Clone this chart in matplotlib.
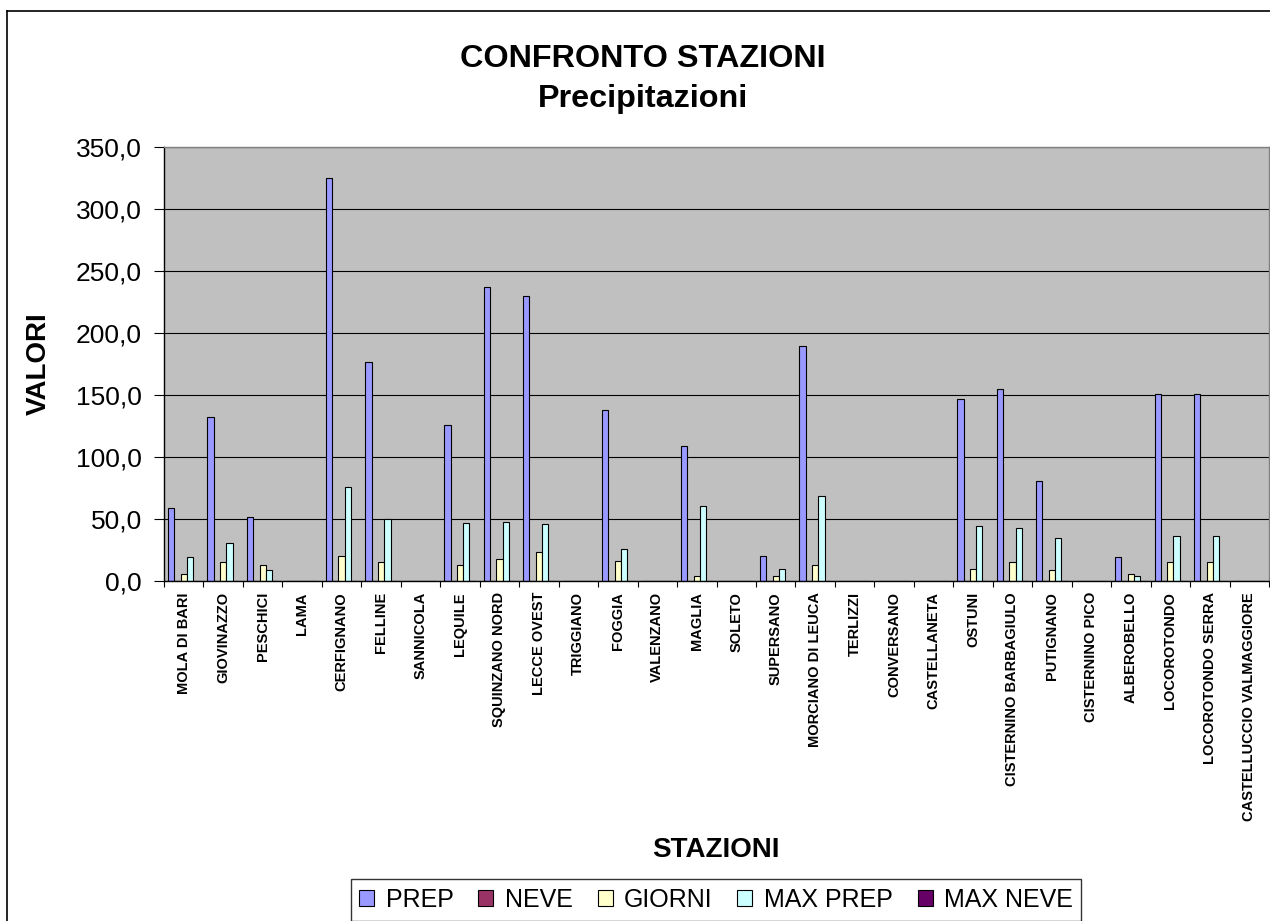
import matplotlib
matplotlib.use("Agg")
import matplotlib.pyplot as plt
import numpy as np
from matplotlib.lines import Line2D

plt.rcParams['font.family'] = ['Liberation Sans', 'DejaVu Sans']

stations = ["MOLA DI BARI", "GIOVINAZZO", "PESCHICI", "LAMA", "CERFIGNANO", "FELLINE",
            "SANNICOLA", "LEQUILE", "SQUINZANO NORD", "LECCE OVEST", "TRIGGIANO", "FOGGIA",
            "VALENZANO", "MAGLIA", "SOLETO", "SUPERSANO", "MORCIANO DI LEUCA", "TERLIZZI",
            "CONVERSANO", "CASTELLANETA", "OSTUNI", "CISTERNINO BARBAGIULO", "PUTIGNANO",
            "CISTERNINO PICO", "ALBEROBELLO", "LOCOROTONDO", "LOCOROTONDO SERRA",
            "CASTELLUCCIO VALMAGGIORE"]
prep = [58.6, 132.4, 51.3, 0, 325.0, 176.7, 0, 126.0, 236.7, 230.2, 0, 138.0, 0, 108.5, 0,
        19.9, 189.6, 0, 0, 0, 146.4, 154.5, 80.8, 0, 19.3, 151.0, 151.0, 0]
neve = [0] * 28
giorni = [6, 15, 13, 0, 20, 15, 0, 13, 18, 23, 0, 16, 0, 4, 0, 4, 13, 0, 0, 0, 10, 15, 9, 0,
          6, 15, 15, 0]
max_prep = [19.3, 30.9, 8.9, 0, 76.0, 50.2, 0, 46.7, 47.5, 45.7, 0, 25.8, 0, 60.4, 0, 9.9,
            68.8, 0, 0, 0, 44.0, 43.0, 34.9, 0, 4.3, 36.5, 36.5, 0]
max_neve = [0] * 28
series_names = ["PREP", "NEVE", "GIORNI", "MAX PREP", "MAX NEVE"]
yticks = [0, 50, 100, 150, 200, 250, 300, 350]

series = [prep, neve, giorni, max_prep, max_neve]
colors = ["#9999FF", "#993366", "#FFFFCC", "#CCFFFF", "#660066"]

W, H = 1270, 921
fig = plt.figure(figsize=(W / 100, H / 100), dpi=100)
fig.patch.set_facecolor("white")

left, right, top, bottom = 164, 1269, 147, 581
ax = fig.add_axes([left / W, 1 - bottom / H, (right - left) / W, (bottom - top) / H])
ax.set_facecolor("#C0C0C0")

n = len(stations)
x = np.arange(n)
bw = 0.16
for i, (vals, c, name) in enumerate(zip(series, colors, series_names)):
    ax.bar(x + (i - 2) * bw, vals, width=bw, color=c, edgecolor="black",
           linewidth=0.8, label=name, zorder=2)

ax.set_xlim(-0.5, n - 0.5)
ax.set_ylim(0, 350)
ax.set_yticks(yticks)
ax.set_yticklabels([f"{v:.1f}".replace(".", ",") for v in yticks], fontsize=19)
ax.yaxis.grid(True, color="black", linewidth=0.8, zorder=1)
ax.set_axisbelow(True)

ax.set_xticks(x)
ax.set_xticklabels(stations, rotation=90, fontsize=10.5, fontweight="bold",
                   va="top", ha="center")
ax.set_xticks(np.arange(-0.5, n, 1.0), minor=True)
ax.tick_params(axis="x", which="major", length=0, pad=8)
ax.tick_params(axis="x", which="minor", length=4, direction="out", width=0.8)
ax.tick_params(axis="y", length=7, direction="out", width=0.8, pad=9)

for s in ["top", "right"]:
    ax.spines[s].set_color("#808080")
    ax.spines[s].set_linewidth(1.0)
for s in ["left", "bottom"]:
    ax.spines[s].set_color("black")
    ax.spines[s].set_linewidth(1.0)

# titles
fig.text(643 / W, 1 - 67 / H, "CONFRONTO STAZIONI", ha="center", va="baseline",
         fontsize=23.3, fontweight="bold")
fig.text(643 / W, 1 - 107 / H, "Precipitazioni", ha="center", va="baseline",
         fontsize=23.3, fontweight="bold")
fig.text(716 / W, 1 - 857 / H, "STAZIONI", ha="center", va="baseline",
         fontsize=20, fontweight="bold")
fig.text(39 / W, 1 - 364 / H, "VALORI", ha="center", va="center", rotation=90,
         fontsize=20, fontweight="bold")

leg = fig.legend(loc="upper center", bbox_to_anchor=(716 / W, 1 - 879 / H),
                 bbox_transform=fig.transFigure, ncol=5, fontsize=18, frameon=True,
                 fancybox=False, shadow=False, borderaxespad=0, borderpad=0.35,
                 handlelength=0.6, handleheight=0.6, handletextpad=0.45,
                 columnspacing=1.0)
leg.get_frame().set_edgecolor("black")
leg.get_frame().set_linewidth(1.0)

# chart area border (left and top visible)
fig.add_artist(Line2D([7 / W, 7 / W], [0, 1 - 11 / H], transform=fig.transFigure,
                      color="black", linewidth=1.2))
fig.add_artist(Line2D([7 / W, 1], [1 - 11 / H, 1 - 11 / H], transform=fig.transFigure,
                      color="black", linewidth=1.2))

fig.savefig("out.png", dpi=100)
